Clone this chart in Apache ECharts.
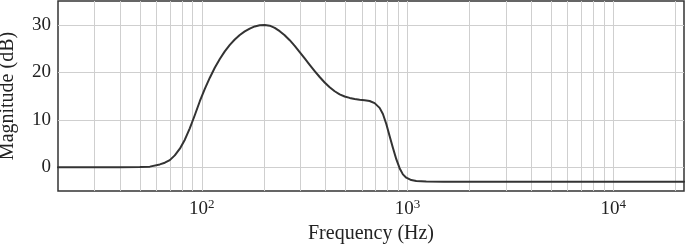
<!DOCTYPE html>
<html>
<head>
<meta charset="utf-8">
<script src="https://cdn.jsdelivr.net/npm/echarts@6/dist/echarts.min.js"></script>
<style>
  html, body { margin: 0; padding: 0; background: #fff; }
  #chart { width: 685px; height: 245px; }
</style>
</head>
<body>
<div id="chart"></div>
<script>
// frequency response
const freqs = [20, 30, 40, 50, 55.9, 62.5, 66.1, 69.9, 73.9, 78.2, 82.7, 87.4, 92.5, 97.8, 103.4, 109.4,
  115.6, 122.3, 129.3, 136.8, 144.6, 152.9, 161.7, 171, 180.8, 191.2, 202.2, 213.8, 226.1, 239.1,
  252.8, 267.4, 282.8, 299, 316.2, 334.4, 353.6, 373.9, 395.4, 418.2, 442.2, 467.7, 494.5, 522.9,
  553, 584.8, 618.4, 654, 691.6, 731.3, 758.8, 788.1, 817.7, 848.4, 881.3, 914.6, 949, 985.6,
  1042, 1102, 1233, 1500, 2000, 5000, 10000, 22050];
const magDb = [0, 0, 0, 0.05, 0.13, 0.6, 0.95, 1.5, 2.5, 3.9, 5.8, 8.2, 11.0, 13.9, 16.5, 18.85,
  20.95, 22.8, 24.4, 25.75, 26.9, 27.85, 28.6, 29.2, 29.65, 29.9, 29.97, 29.8, 29.35, 28.65,
  27.8, 26.75, 25.55, 24.25, 22.9, 21.55, 20.25, 19.0, 17.85, 16.85, 16.0, 15.35, 14.9, 14.6,
  14.38, 14.22, 14.1, 13.95, 13.5, 12.5, 11.2, 9.1, 6.6, 4.1, 1.7, -0.2, -1.5, -2.2,
  -2.7, -2.9, -3.0, -3.05, -3.05, -3.05, -3.05, -3.05];

const xTicks = [100, 1000, 10000];
const yTicks = [0, 10, 20, 30];
// log grid lines 20..90, 100..900, 1000..9000, 10000, 20000
const xGrid = [30, 40, 50, 60, 70, 80, 90, 100, 200, 300, 400, 500, 600, 700, 800, 900,
  1000, 2000, 3000, 4000, 5000, 6000, 7000, 8000, 9000, 10000, 20000];

const font = 'Liberation Serif';
const chart = echarts.init(document.getElementById('chart'));

chart.setOption({
  animation: false,
  grid: {
    left: 58, right: 1, top: 1, bottom: 54, outerBoundsMode: 'none', containLabel: false,
    show: true, borderColor: '#333', borderWidth: 1.5, backgroundColor: 'transparent'
  },
  xAxis: {
    type: 'log', logBase: 10, min: 20, max: 22050,
    name: 'Frequency (Hz)', nameLocation: 'middle', nameGap: 27,
    nameTextStyle: { fontFamily: font, fontSize: 20, color: '#222' },
    axisLine: { show: false }, axisTick: { show: false }, splitLine: { show: false },
    axisLabel: {
      margin: 7, color: '#222', fontFamily: font, fontSize: 19,
      showMinLabel: false, showMaxLabel: false,
      formatter: v => {
        const e = Math.round(Math.log10(v));
        return xTicks.includes(Math.pow(10, e)) && Math.abs(Math.log10(v) - e) < 1e-6 ? '10{sup|' + e + '}' : '';
      },
      rich: { sup: { fontFamily: font, fontSize: 13, verticalAlign: 'top', padding: [0, 0, 9, 0], color: '#222' } }
    }
  },
  yAxis: {
    type: 'value', min: -5, max: 35, interval: 5,
    name: 'Magnitude (dB)', nameLocation: 'middle', nameGap: 40,
    nameTextStyle: { fontFamily: font, fontSize: 20, color: '#222' },
    axisLine: { show: false }, axisTick: { show: false }, splitLine: { show: false },
    axisLabel: {
      margin: 7, color: '#222', fontFamily: font, fontSize: 19,
      formatter: v => (yTicks.includes(v) ? String(v) : '')
    }
  },
  series: [
    {
      type: 'line', silent: true, data: [],
      markLine: {
        silent: true, symbol: 'none', label: { show: false }, animation: false,
        lineStyle: { color: '#cfcfcf', width: 1, type: 'solid' },
        data: xGrid.map(f => ({ xAxis: f })).concat(yTicks.map(v => ({ yAxis: v })))
      }
    },
    {
      type: 'line', smooth: false, showSymbol: false,
      data: freqs.map((f, i) => [f, magDb[i]]),
      lineStyle: { color: '#333', width: 2, join: 'round', cap: 'round' }, z: 5
    }
  ]
});
</script>
</body>
</html>
